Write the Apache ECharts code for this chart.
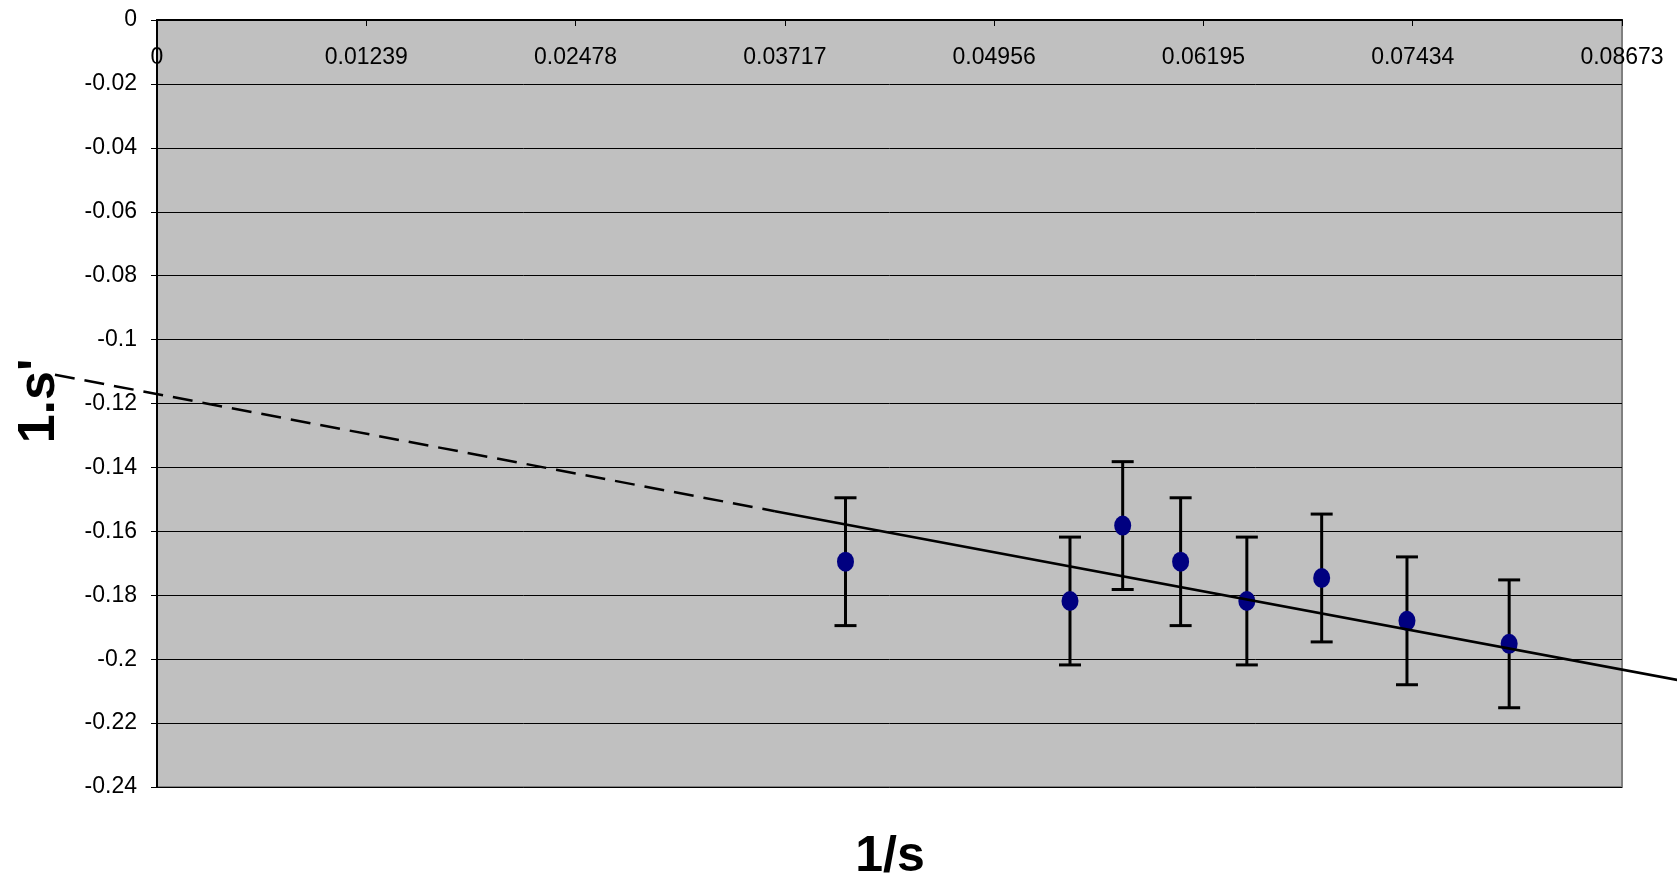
<!DOCTYPE html>
<html>
<head>
<meta charset="utf-8">
<script src="https://cdn.jsdelivr.net/npm/echarts@6/dist/echarts.min.js"></script>
<style>
html,body{margin:0;padding:0;background:#fff;}
#chart{width:1677px;height:882px;}
</style>
</head>
<body>
<div id="chart"></div>
<script>
// ---- data ----
var xValues = [0.04076, 0.05405, 0.05717, 0.06060, 0.06452, 0.06895, 0.07400, 0.08005];
var yValues = [-0.1695, -0.1818, -0.1582, -0.1695, -0.1818, -0.1746, -0.1880, -0.1952];
var yErrors = [0.02, 0.02, 0.02, 0.02, 0.02, 0.02, 0.02, 0.02];
var trendDashX = [-0.00604, 0.03658];
var trendDashY = [-0.1110, -0.1537];
var trendSolidX = [0.03658, 0.09000];
var trendSolidY = [-0.1537, -0.2065];
var xTickLabels = ['0', '0.01239', '0.02478', '0.03717', '0.04956', '0.06195', '0.07434', '0.08673'];
var xStep = 0.01239;
var yTickLabels = ['0', '-0.02', '-0.04', '-0.06', '-0.08', '-0.1', '-0.12', '-0.14', '-0.16', '-0.18', '-0.2', '-0.22', '-0.24'];
var xTitle = '1/s';
var yTitle = "1.s'";

var FONT = "'Liberation Sans', Arial, sans-serif";
var chart = echarts.init(document.getElementById('chart'));

var points = xValues.map(function (x, i) { return [x, yValues[i]]; });
var errData = xValues.map(function (x, i) { return [x, yValues[i] - yErrors[i], yValues[i] + yErrors[i]]; });
var trendData = [
  [trendDashX[0], trendDashY[0], trendDashX[1], trendDashY[1], 1],
  [trendSolidX[0], trendSolidY[0], trendSolidX[1], trendSolidY[1], 0]
];

var option = {
  animation: false,
  backgroundColor: '#ffffff',
  grid: {
    left: 157, top: 20, right: 55, bottom: 95,
    show: true, backgroundColor: '#c0c0c0', borderColor: '#808080', borderWidth: 2
  },
  xAxis: {
    type: 'value', position: 'top', min: 0, max: 0.08673, interval: xStep,
    axisLine: { show: true, onZero: false, lineStyle: { color: '#000', width: 2 } },
    axisTick: { show: true, inside: true, length: 6, lineStyle: { color: '#000', width: 1 } },
    axisLabel: {
      inside: true, margin: 26, fontFamily: FONT, fontSize: 23, color: '#000',
      showMinLabel: true, showMaxLabel: true,
      formatter: function (v) { return xTickLabels[Math.round(v / xStep)]; }
    },
    splitLine: { show: false }
  },
  yAxis: {
    type: 'value', min: -0.24, max: 0, interval: 0.02,
    axisLine: { show: true, onZero: false, lineStyle: { color: '#000', width: 2 } },
    axisTick: { show: true, inside: false, length: 6, lineStyle: { color: '#000', width: 1 } },
    axisLabel: {
      margin: 20, fontFamily: FONT, fontSize: 23, color: '#000',
      formatter: function (v) { return yTickLabels[Math.round(-v / 0.02)]; }
    },
    splitLine: { show: true, lineStyle: { color: '#000', width: 1 } }
  },
  graphic: [
    { type: 'text', x: 890, y: 857, z: 100,
      style: { text: xTitle, font: "bold 50px " + FONT, fill: '#000', align: 'center', verticalAlign: 'middle' } },
    { type: 'text', x: 40, y: 401, rotation: Math.PI / 2, z: 100,
      style: { text: yTitle, font: "bold 52px " + FONT, fill: '#000', align: 'center', verticalAlign: 'middle' } }
  ],
  series: [
    {
      type: 'custom', name: 'err', z: 3,
      data: errData,
      encode: { x: 0, y: [1, 2] },
      renderItem: function (params, api) {
        var x = api.value(0);
        var lo = api.coord([x, api.value(1)]);
        var hi = api.coord([x, api.value(2)]);
        var hw = 11;
        var st = { stroke: '#000', lineWidth: 3 };
        return {
          type: 'group',
          children: [
            { type: 'line', shape: { x1: lo[0], y1: lo[1], x2: hi[0], y2: hi[1] }, style: st },
            { type: 'line', shape: { x1: lo[0] - hw, y1: lo[1], x2: lo[0] + hw, y2: lo[1] }, style: st },
            { type: 'line', shape: { x1: hi[0] - hw, y1: hi[1], x2: hi[0] + hw, y2: hi[1] }, style: st }
          ]
        };
      }
    },
    {
      type: 'scatter', name: 'points', z: 4,
      data: points, symbol: 'circle', symbolSize: [17, 20],
      itemStyle: { color: '#000080', opacity: 1 }
    },
    {
      type: 'custom', name: 'trend', z: 5, clip: false,
      data: trendData,
      encode: { x: [0, 2], y: [1, 3] },
      renderItem: function (params, api) {
        var p1 = api.coord([api.value(0), api.value(1)]);
        var p2 = api.coord([api.value(2), api.value(3)]);
        var dashed = api.value(4) === 1;
        return {
          type: 'line',
          shape: { x1: p1[0], y1: p1[1], x2: p2[0], y2: p2[1] },
          style: { stroke: '#000', lineWidth: 2.5, lineDash: dashed ? [20, 10] : null }
        };
      }
    }
  ]
};
chart.setOption(option);
</script>
</body>
</html>
